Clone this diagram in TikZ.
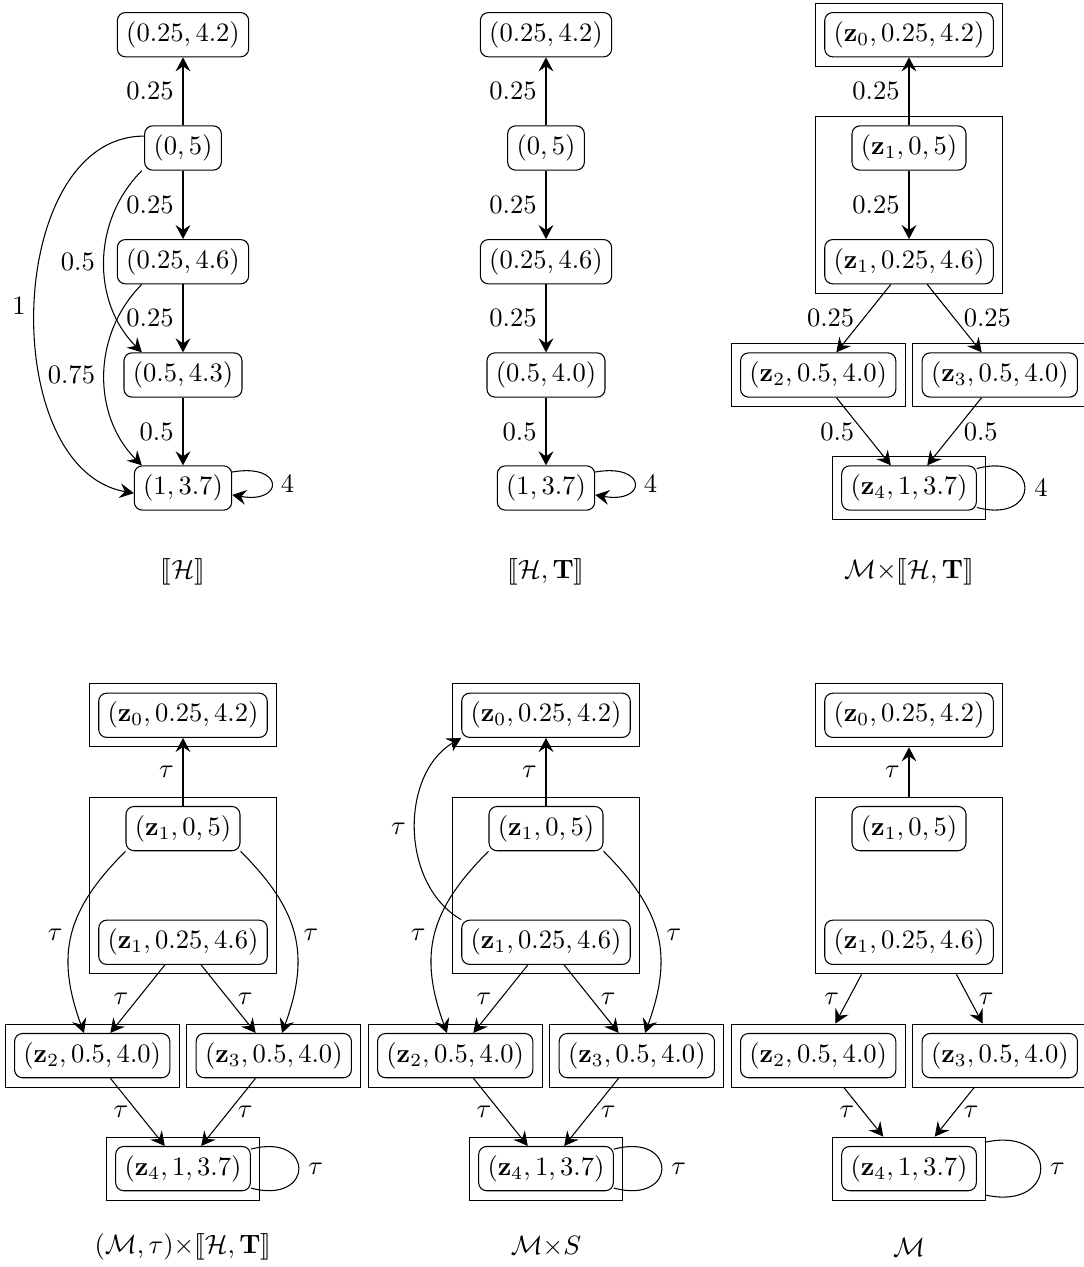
\documentclass[tikz,border=0pt]{standalone}
\usepackage{amsmath}
\usepackage{stmaryrd}
\usetikzlibrary{arrows.meta,fit}
\tikzset{
  px/.style={x=0.37665pt,y=-0.37665pt},
  st/.style={draw, rounded corners=3pt, inner sep=3.33pt},
  grp/.style={draw, inner sep=3.33pt},
  arr/.style={-{Stealth[length=5.3pt,width=5.6pt,inset=1.9pt]}},
  lbl/.style={inner sep=3.33pt},
}
\begin{document}
\begin{tikzpicture}[px]
\useasboundingbox (0,0) rectangle (1083,1267);

% ---------- [[H]] ----------
\node[st] (a0) at (183,34.7)  {$(0.25,4.2)$};
\node[st] (a1) at (183,148)   {$(0,5)$};
\node[st] (a2) at (183,261.7) {$(0.25,4.6)$};
\node[st] (a3) at (183,375)   {$(0.5,4.3)$};
\node[st] (a4) at (183,488)   {$(1,3.7)$};
\draw[arr] (a1) -- node[lbl,left]{$0.25$} (a0);
\draw[arr] (a1) -- node[lbl,left]{$0.25$} (a2);
\draw[arr] (a2) -- node[lbl,left]{$0.25$} (a3);
\draw[arr] (a3) -- node[lbl,left]{$0.5$} (a4);
\draw[arr] ([xshift=-15.5pt]a1.south) to[out=225,in=135] node[lbl,left]{$0.5$} ([xshift=-15.5pt]a3.north);
\draw[arr] ([xshift=-15.5pt]a2.south) to[out=225,in=135] node[lbl,left]{$0.75$} ([xshift=-15.5pt]a4.north);
\draw[arr] (a1.163) to[out=180,in=170,looseness=1.0] node[lbl,left]{$1$} (a4.186);
\draw[arr] (a4.18) .. controls +(10:20pt) and +(-10:20pt) .. node[lbl,right]{$4$} (a4.-8);
\node (capa) at (183,572) {$\llbracket\mathcal{H}\rrbracket$};

% ---------- [[H,T]] ----------
\begin{scope}[shift={(363,0)}]
\node[st] (b0) at (183,34.7)  {$(0.25,4.2)$};
\node[st] (b1) at (183,148)   {$(0,5)$};
\node[st] (b2) at (183,261.7) {$(0.25,4.6)$};
\node[st] (b3) at (183,375)   {$(0.5,4.0)$};
\node[st] (b4) at (183,488)   {$(1,3.7)$};
\draw[arr] (b1) -- node[lbl,left]{$0.25$} (b0);
\draw[arr] (b1) -- node[lbl,left]{$0.25$} (b2);
\draw[arr] (b2) -- node[lbl,left]{$0.25$} (b3);
\draw[arr] (b3) -- node[lbl,left]{$0.5$} (b4);
\draw[arr] (b4.18) .. controls +(10:20pt) and +(-10:20pt) .. node[lbl,right]{$4$} (b4.-8);
\node (capb) at (183,572) {$\llbracket\mathcal{H},\mathbf{T}\rrbracket$};
\end{scope}

% ---------- M x [[H,T]] ----------
\begin{scope}[shift={(726,0)}]
\node[st] (c0)  at (183,34.7)  {$(\mathbf{z}_0,0.25,4.2)$};
\node[st] (c1)  at (183,148)   {$(\mathbf{z}_1,0,5)$};
\node[st] (c1b) at (183,261.7) {$(\mathbf{z}_1,0.25,4.6)$};
\node[st] (c2)  at (92.2,375)  {$(\mathbf{z}_2,0.5,4.0)$};
\node[st] (c3)  at (273.8,375) {$(\mathbf{z}_3,0.5,4.0)$};
\node[st] (c4)  at (183,488)   {$(\mathbf{z}_4,1,3.7)$};
\node[grp,fit=(c0)] (cg0) {};
\node[grp,fit=(c1)(c1b)] (cg1) {};
\node[grp,fit=(c2)] (cg2) {};
\node[grp,fit=(c3)] (cg3) {};
\node[grp,fit=(c4)] (cg4) {};
\draw[arr] (c1) -- node[lbl,left]{$0.25$} (c0);
\draw[arr] (c1) -- node[lbl,left]{$0.25$} (c1b);
\draw[arr] (c1b) -- node[lbl,left]{$0.25$} (c2);
\draw[arr] (c1b) -- node[lbl,right]{$0.25$} (c3);
\draw[arr] (c2) -- node[lbl,left]{$0.5$} (c4);
\draw[arr] (c3) -- node[lbl,right]{$0.5$} (c4);
\draw (c4.16) .. controls +(15:25pt) and +(-15:25pt) .. node[lbl,right]{$4$} (c4.-16);
\node (capc) at (183,572) {$\mathcal{M}{\times}\llbracket\mathcal{H},\mathbf{T}\rrbracket$};
\end{scope}

% ---------- (M,tau) x [[H,T]] ----------
\begin{scope}[shift={(0,680.6)}]
\node[st] (d0)  at (183,34.7)  {$(\mathbf{z}_0,0.25,4.2)$};
\node[st] (d1)  at (183,148)   {$(\mathbf{z}_1,0,5)$};
\node[st] (d1b) at (183,261.7) {$(\mathbf{z}_1,0.25,4.6)$};
\node[st] (d2)  at (92.2,375)  {$(\mathbf{z}_2,0.5,4.0)$};
\node[st] (d3)  at (273.8,375) {$(\mathbf{z}_3,0.5,4.0)$};
\node[st] (d4)  at (183,488)   {$(\mathbf{z}_4,1,3.7)$};
\node[grp,fit=(d0)] (dg0) {};
\node[grp,fit=(d1)(d1b)] (dg1) {};
\node[grp,fit=(d2)] (dg2) {};
\node[grp,fit=(d3)] (dg3) {};
\node[grp,fit=(d4)] (dg4) {};
\draw[arr] (d1) -- node[lbl,left]{$\tau$} (d0);
\draw[arr] (d1.south west) to[out=225,in=110,looseness=1.15] node[lbl,left]{$\tau$} (d2);
\draw[arr] (d1.south east) to[out=-45,in=70,looseness=1.15] node[lbl,right]{$\tau$} (d3);
\draw[arr] (d1b) -- node[lbl,left]{$\tau$} (d2);
\draw[arr] (d1b) -- node[lbl,right]{$\tau$} (d3);
\draw[arr] (d2) -- node[lbl,left]{$\tau$} (d4);
\draw[arr] (d3) -- node[lbl,right]{$\tau$} (d4);
\draw (d4.16) .. controls +(15:25pt) and +(-15:25pt) .. node[lbl,right]{$\tau$} (d4.-16);
\node (capd) at (183,566.4) {$(\mathcal{M},\tau){\times}\llbracket\mathcal{H},\mathbf{T}\rrbracket$};
\end{scope}

% ---------- M x S ----------
\begin{scope}[shift={(363,680.6)}]
\node[st] (e0)  at (183,34.7)  {$(\mathbf{z}_0,0.25,4.2)$};
\node[st] (e1)  at (183,148)   {$(\mathbf{z}_1,0,5)$};
\node[st] (e1b) at (183,261.7) {$(\mathbf{z}_1,0.25,4.6)$};
\node[st] (e2)  at (92.2,375)  {$(\mathbf{z}_2,0.5,4.0)$};
\node[st] (e3)  at (273.8,375) {$(\mathbf{z}_3,0.5,4.0)$};
\node[st] (e4)  at (183,488)   {$(\mathbf{z}_4,1,3.7)$};
\node[grp,fit=(e0)] (eg0) {};
\node[grp,fit=(e1)(e1b)] (eg1) {};
\node[grp,fit=(e2)] (eg2) {};
\node[grp,fit=(e3)] (eg3) {};
\node[grp,fit=(e4)] (eg4) {};
\draw[arr] (e1) -- node[lbl,left]{$\tau$} (e0);
\draw[arr] (e1b.north west) to[out=150,in=210] node[lbl,left]{$\tau$} (e0.south west);
\draw[arr] (e1.south west) to[out=225,in=110,looseness=1.15] node[lbl,left]{$\tau$} (e2);
\draw[arr] (e1.south east) to[out=-45,in=70,looseness=1.15] node[lbl,right]{$\tau$} (e3);
\draw[arr] (e1b) -- node[lbl,left]{$\tau$} (e2);
\draw[arr] (e1b) -- node[lbl,right]{$\tau$} (e3);
\draw[arr] (e2) -- node[lbl,left]{$\tau$} (e4);
\draw[arr] (e3) -- node[lbl,right]{$\tau$} (e4);
\draw (e4.16) .. controls +(15:25pt) and +(-15:25pt) .. node[lbl,right]{$\tau$} (e4.-16);
\node (cape) at (183,566.4) {$\mathcal{M}{\times}S$};
\end{scope}

% ---------- M ----------
\begin{scope}[shift={(726,680.6)}]
\node[st] (f0)  at (183,34.7)  {$(\mathbf{z}_0,0.25,4.2)$};
\node[st] (f1)  at (183,148)   {$(\mathbf{z}_1,0,5)$};
\node[st] (f1b) at (183,261.7) {$(\mathbf{z}_1,0.25,4.6)$};
\node[st] (f2)  at (92.2,375)  {$(\mathbf{z}_2,0.5,4.0)$};
\node[st] (f3)  at (273.8,375) {$(\mathbf{z}_3,0.5,4.0)$};
\node[st] (f4)  at (183,488)   {$(\mathbf{z}_4,1,3.7)$};
\node[grp,fit=(f0)] (fg0) {};
\node[grp,fit=(f1)(f1b)] (fg1) {};
\node[grp,fit=(f2)] (fg2) {};
\node[grp,fit=(f3)] (fg3) {};
\node[grp,fit=(f4)] (fg4) {};
\draw[arr] (fg1) -- node[lbl,left]{$\tau$} (fg0);
\draw[arr] (fg1) -- node[lbl,left]{$\tau$} (fg2);
\draw[arr] (fg1) -- node[lbl,right]{$\tau$} (fg3);
\draw[arr] (fg2) -- node[lbl,left]{$\tau$} (fg4);
\draw[arr] (fg3) -- node[lbl,right]{$\tau$} (fg4);
\draw (fg4.19) .. controls +(12:28pt) and +(-12:28pt) .. node[lbl,right]{$\tau$} (fg4.-19);
\node (capf) at (183,566.4) {$\mathcal{M}$};
\end{scope}
\end{tikzpicture}
\end{document}
